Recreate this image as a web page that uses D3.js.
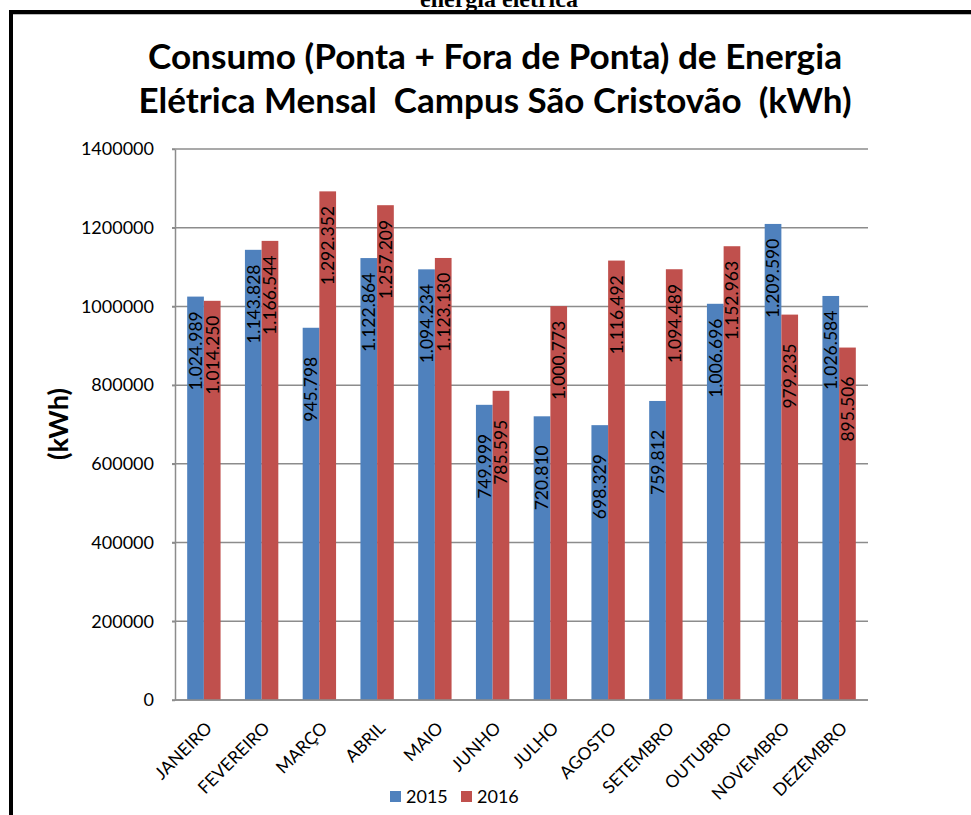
<!DOCTYPE html>
<html><head><meta charset="utf-8">
<script src="https://cdn.jsdelivr.net/npm/d3@7"></script>
<style>body{margin:0;background:#fff}svg{display:block}</style>
</head><body>
<script>
const months = ["JANEIRO","FEVEREIRO","MARÇO","ABRIL","MAIO","JUNHO","JULHO","AGOSTO","SETEMBRO","OUTUBRO","NOVEMBRO","DEZEMBRO"];
const seriesNames = ["2015","2016"];
const values2015 = [1024989,1143828,945798,1122864,1094234,749999,720810,698329,759812,1006696,1209590,1026584];
const values2016 = [1014250,1166544,1292352,1257209,1123130,785595,1000773,1116492,1094489,1152963,979235,895506];
const yTicks = [0,200000,400000,600000,800000,1000000,1200000,1400000];
const titleLines = ["Consumo (Ponta + Fora de Ponta) de Energia","Elétrica Mensal  Campus São Cristovão  (kWh)"];
const yAxisTitle = "(kWh)";
const topText = "energia elétrica";

const colors = ["#4F81BD","#C0504D"];
const W = 971, H = 815;
const m = {left:175, right:868, top:149, bottom:700};
const svg = d3.select("body").append("svg").attr("width",W).attr("height",H);
svg.append("rect").attr("width",W).attr("height",H).attr("fill","#fff");

// cut-off caption text at top
svg.append("text").attr("x",499).attr("y",7).attr("text-anchor","middle")
  .attr("font-family","Liberation Serif").attr("font-weight","bold").attr("font-size",24)
  .text(topText);

// frame
svg.append("rect").attr("x",9).attr("y",10).attr("width",W).attr("height",4).attr("fill","#000");
svg.append("rect").attr("x",9).attr("y",10).attr("width",4).attr("height",H).attr("fill","#000");
svg.append("line").attr("x1",13).attr("x2",W).attr("y1",14.5).attr("y2",14.5).attr("stroke","#bbb").attr("stroke-width",1);

const x = d3.scaleBand().domain(months).range([m.left,m.right]).padding(0);
const xs = d3.scaleBand().domain(seriesNames).range([0,x.bandwidth()]).paddingInner(0).paddingOuter(0.73);
const y = d3.scaleLinear().domain([0,1400000]).range([m.bottom,m.top]);

// gridlines
svg.append("g").selectAll("line").data(yTicks).join("line")
  .attr("x1",m.left-3).attr("x2",m.right).attr("y1",d=>y(d)).attr("y2",d=>y(d))
  .attr("stroke","#8c8c8c").attr("stroke-width",1.5);

// y axis
const yAxis = svg.append("g").attr("transform",`translate(${m.left},0)`)
  .call(d3.axisLeft(y).tickValues(yTicks).tickFormat(d3.format("d")).tickSize(3).tickPadding(18).tickSizeOuter(0));
yAxis.select(".domain").attr("stroke","#8c8c8c").attr("stroke-width",1.5);
yAxis.selectAll(".tick line").attr("stroke","#8c8c8c").attr("stroke-width",1.5);
yAxis.selectAll("text").attr("font-family","Lato").attr("font-size",18).attr("fill","#000");

// bars
const rows = months.map((mo,i)=>({month:mo, vals:[values2015[i],values2016[i]]}));
const loc = d3.formatLocale({decimal:",",thousands:".",grouping:[3],currency:["",""]});
const fmt = loc.format(",d");
const g = svg.append("g").selectAll("g").data(rows).join("g")
  .attr("transform",d=>`translate(${x(d.month)},0)`);
g.selectAll("rect").data(d=>d.vals.map((v,k)=>({v,k}))).join("rect")
  .attr("x",d=>xs(seriesNames[d.k])).attr("width",xs.bandwidth())
  .attr("y",d=>y(d.v)).attr("height",d=>y(0)-y(d.v))
  .attr("fill",d=>colors[d.k]);
// data labels
g.selectAll("text").data(d=>d.vals.map((v,k)=>({v,k}))).join("text")
  .attr("transform",d=>`translate(${xs(seriesNames[d.k])+xs.bandwidth()/2},${y(d.v)+94}) rotate(-90)`)
  .attr("dy","0.36em").attr("text-anchor","start")
  .attr("font-family","Lato").attr("font-size",17.5).attr("fill","#000")
  .text(d=>fmt(d.v));

// x axis line
svg.append("line").attr("x1",m.left).attr("x2",m.right).attr("y1",y(0)).attr("y2",y(0))
  .attr("stroke","#8c8c8c").attr("stroke-width",1.5);
// x labels
svg.append("g").selectAll("text").data(months).join("text")
  .attr("transform",d=>`translate(${x(d)+x.bandwidth()/2+5},725) rotate(-45)`)
  .attr("text-anchor","end").attr("dy","0.35em")
  .attr("font-family","Lato").attr("font-size",17.5).attr("fill","#000")
  .text(d=>d);

// y axis title
svg.append("text").attr("transform","translate(59,424) rotate(-90)")
  .attr("text-anchor","middle").attr("dy","0.35em")
  .attr("font-family","Lato").attr("font-weight","bold").attr("font-size",26)
  .attr("textLength",72).attr("lengthAdjust","spacingAndGlyphs")
  .text(yAxisTitle);

// title
const titleX = 495, titleY = [69, 113], titleW = [694, 713];
svg.append("g").selectAll("text").data(titleLines).join("text")
  .attr("x",titleX).attr("y",(d,i)=>titleY[i]).attr("text-anchor","middle")
  .attr("font-family","Lato").attr("font-weight","bold").attr("font-size",35)
  .attr("textLength",(d,i)=>titleW[i]).attr("lengthAdjust","spacingAndGlyphs")
  .style("white-space","pre").text(d=>d);

// legend
const lg = svg.append("g").selectAll("g").data(seriesNames).join("g")
  .attr("transform",(d,i)=>`translate(${[390,461][i]},791)`);
lg.append("rect").attr("width",11).attr("height",11).attr("fill",(d,i)=>colors[i]);
lg.append("text").attr("x",16).attr("y",12).attr("font-family","Lato").attr("font-size",18).text(d=>d);
</script>
</body></html>
